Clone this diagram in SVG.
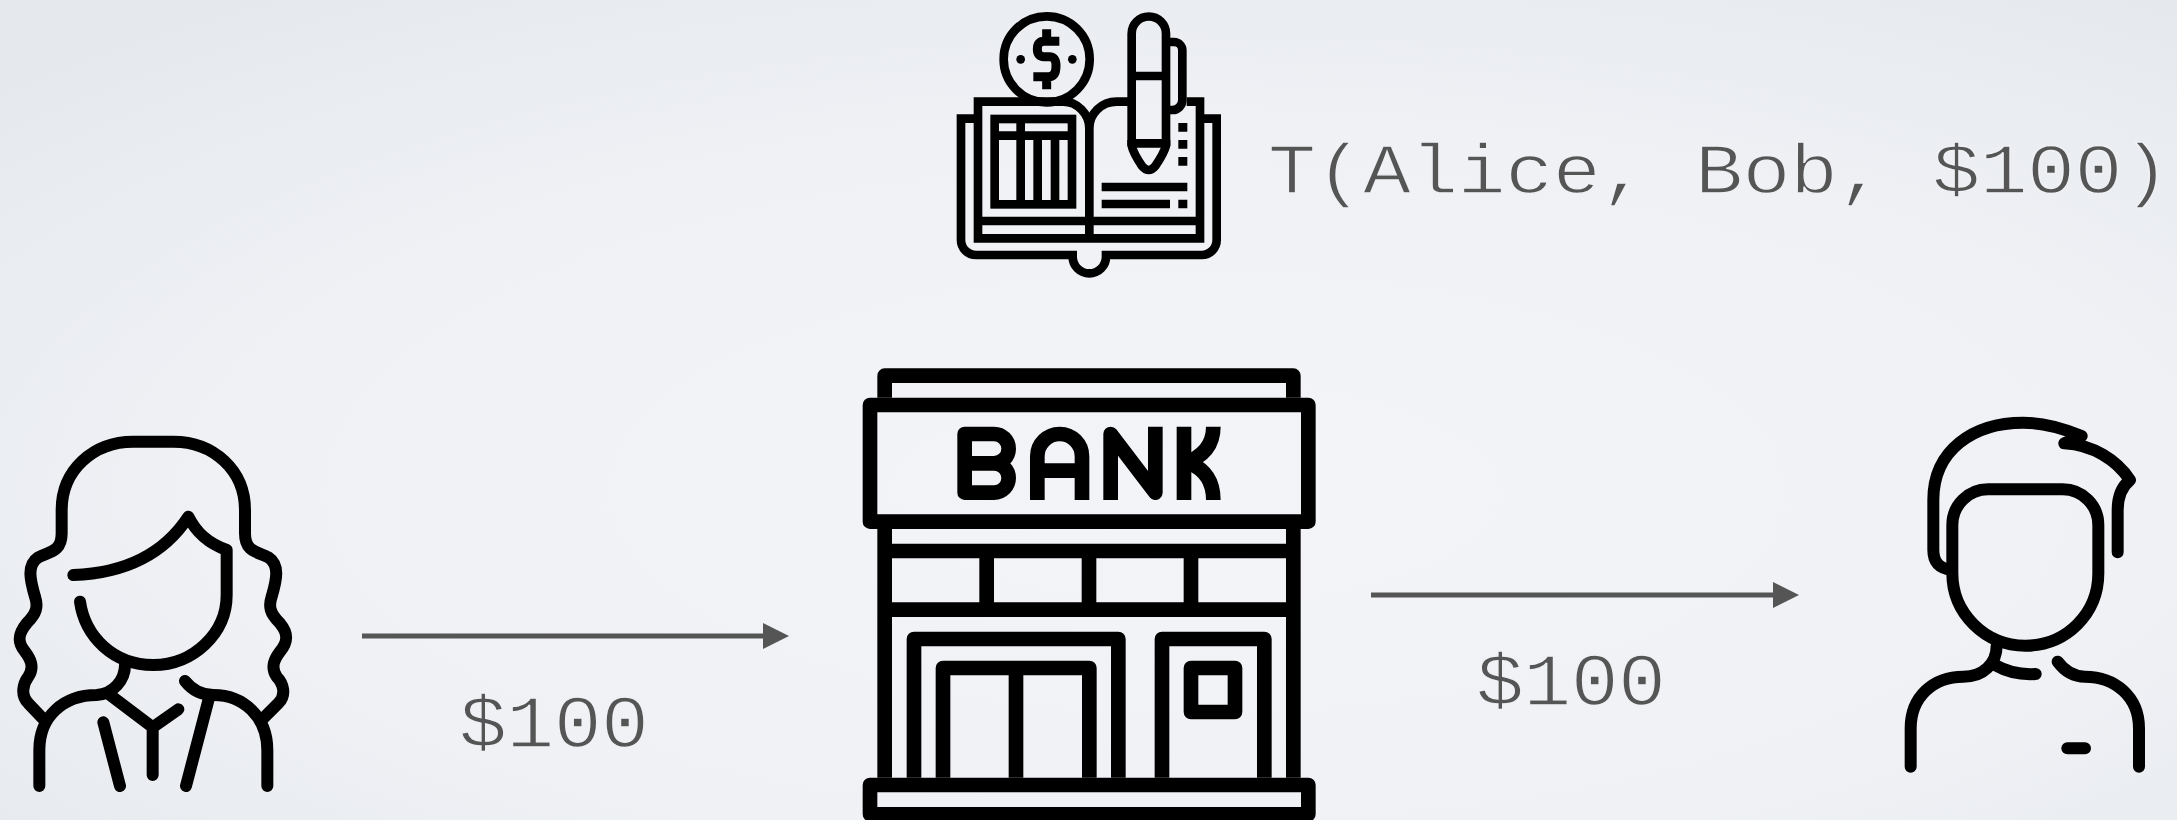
<svg xmlns="http://www.w3.org/2000/svg" width="2177" height="820" viewBox="0 0 2177 820">
<style>
.ic{fill:none;stroke:#000;stroke-linejoin:round;stroke-linecap:round}
.bk{stroke-width:44;stroke-linecap:butt}
.bo{stroke-width:26;stroke-linecap:butt;stroke-linejoin:miter}
.pe{stroke-width:36}
.lb{font-family:"Liberation Mono","Courier New",monospace;font-size:80px;fill:#555;stroke:#eff1f5;stroke-width:1.6px}
.cn{stroke:#555;stroke-width:5;fill:none}
.soft{filter:url(#soft)}
</style>
<defs>
<radialGradient id="bg" cx="0.55" cy="0.6" r="0.75">
<stop offset="0" stop-color="#f3f4f8"/><stop offset="0.6" stop-color="#eff1f5"/><stop offset="1" stop-color="#e5e8ec"/>
</radialGradient>
<filter id="soft" x="-5%" y="-5%" width="110%" height="110%"><feGaussianBlur stdDeviation="0.6"/></filter>
<marker id="ah" markerUnits="userSpaceOnUse" markerWidth="26" markerHeight="26" refX="0" refY="13" orient="auto"><path d="M0 0L26 13L0 26Z" fill="#555"/></marker>
</defs>
<rect width="2177" height="820" fill="url(#bg)"/>
<g id="connectors">
<path class="cn" d="M362 636H763" marker-end="url(#ah)"/>
<path class="cn" d="M1371 595H1773" marker-end="url(#ah)"/>
</g>
<g id="ledger" class="soft" transform="translate(930 0) scale(.33333)">
<g class="ic bo">
<circle cx="350" cy="178" r="129"/>
<path d="M388 124H342Q322 124 322 147Q322 170 342 170H358Q378 170 378 197Q378 230 356 230H310M350 88V124M350 230V268" stroke-width="27"/>
<path d="M132 356H93V720A45 45 0 0 0 138 765H428V770A50 50 0 0 0 528 770V765H815A45 45 0 0 0 860 720V356H820"/>
<path d="M478 385C478 340 440 305 400 305H144V715H810V305H770M478 385C478 340 515 305 560 305H595M478 385V715M144 663H810"/>
<rect x="194" y="357" width="232" height="256"/>
<path d="M194 407H426M272 357V613M323 407V613M375 407V613"/>
<path d="M605 437V101A51 51 0 0 1 708 101V437M605 228H708M605 430H708"/>
<path d="M605 420V437Q610 460 636 498Q656 522 676 498Q702 460 708 437V420" stroke-linejoin="round"/>
<path d="M708 126H732A25 25 0 0 1 757 151V300A30 30 0 0 1 727 330H708"/>
<path d="M745 382H772M745 433H772M745 484H772M745 612H772M515 561H772M515 612H720"/>
</g>
<circle cx="272" cy="178" r="13"/><circle cx="427" cy="178" r="13"/>
</g>
<g id="bank" class="soft" transform="translate(840 350) scale(.33333)">
<g class="ic bk">
<path d="M134 143V77H1360V143"/>
<rect x="90" y="165" width="1315" height="350"/>
<path d="M134 537V1283M1360 537V1283M134 603H1360M134 779H1360M440 603V779M747 603V779M1053 603V779"/>
<path d="M222 1283V867H835V1283M309 1283V954H748V1283M528 954V1283M966 1283V867H1273V1283"/>
<rect x="1053" y="954" width="132" height="132"/>
<rect x="90" y="1305" width="1315" height="88"/>
<path d="M462 340H374V252H462A44 44 0 0 1 462 340A44 44 0 0 1 462 428H374V340"/>
<path d="M592 450V319A67 67 0 0 1 726 319V450M592 362H726"/>
<path d="M812 450V252L946 428V230"/>
<path d="M1032 230V450M1032 340Q1120 310 1120 230M1050 340Q1120 370 1120 450"/>
</g>
</g>
<g id="alice" class="soft" transform="translate(0 420) scale(.33333)">
<g class="ic pe">
<path d="M128 895L85 850C60 825 70 790 85 770C105 740 90 715 75 695C50 665 55 640 80 610C110 580 115 560 105 530C90 480 80 435 115 412C150 395 185 395 185 340V270C185 150 280 65 400 65H520C640 65 735 150 735 270V340C735 395 770 395 805 412C840 435 830 480 815 530C805 560 810 580 840 610C865 640 865 665 840 695C825 715 810 740 830 770C850 790 860 825 835 850L790 895"/>
<path d="M220 465C350 460 480 420 565 290C590 340 625 370 680 390V525C680 640 580 735 460 735C340 735 255 650 240 545"/>
<path d="M375 735C375 780 340 822 290 825C190 825 118 890 118 990V1098"/>
<path d="M555 783C580 815 610 825 640 825C730 825 802 890 802 990V1098"/>
<path d="M330 825L458 922L535 868M458 922V1065M310 907L360 1098M628 830L558 1098"/>
</g>
</g>
<g id="bob" class="soft" transform="translate(1880 400) scale(.33333)">
<g class="ic pe">
<path d="M217 375A107 107 0 0 1 324 268H548A107 107 0 0 1 655 375V520C655 640 560 737 436 737C315 737 217 640 217 520Z"/>
<path d="M215 510C180 505 160 490 160 450V300C160 150 280 68 430 68C490 68 550 85 605 108L553 130C640 135 710 180 750 240C725 260 713 290 713 330V457"/>
<path d="M350 737C350 790 310 830 250 830C160 830 92 890 92 985V1100"/>
<path d="M345 795C380 815 420 825 467 822"/>
<path d="M533 785C555 815 580 830 615 830C705 830 777 890 777 985V1100"/>
<path d="M562 1045H615"/>
</g>
</g>
<text class="lb" transform="translate(1268 193) scale(1 .88)" textLength="902">T(Alice, Bob, $100)</text>
<text class="lb" transform="translate(459 747) scale(1 .92)" textLength="190">$100</text>
<text class="lb" transform="translate(1476 705) scale(1 .92)" textLength="190">$100</text>
</svg>
